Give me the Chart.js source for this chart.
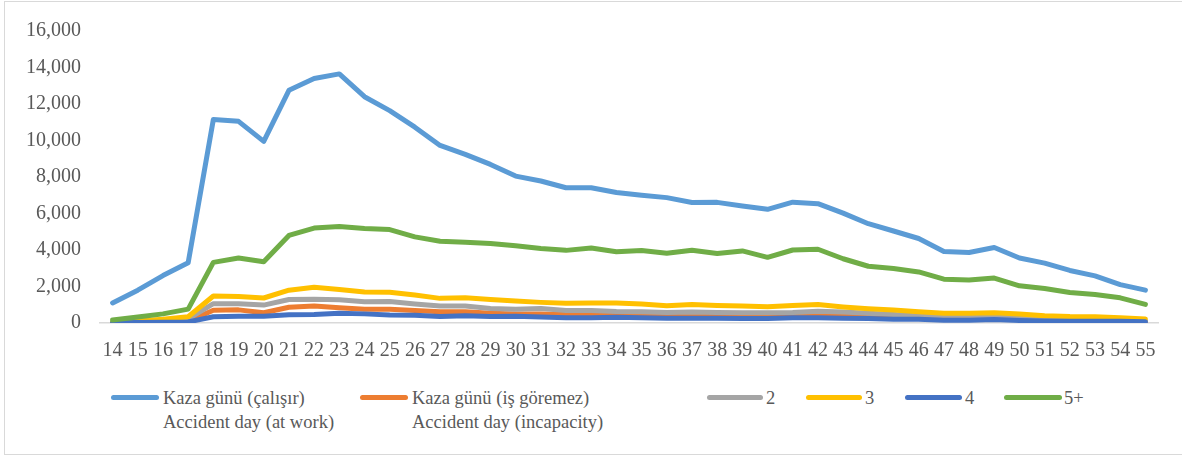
<!DOCTYPE html>
<html>
<head>
<meta charset="utf-8">
<script src="https://cdn.jsdelivr.net/npm/chart.js@4.4.1/dist/chart.umd.min.js"></script>
<style>
  html, body { margin: 0; padding: 0; background: #ffffff; }
  #wrap { position: relative; width: 1182px; height: 456px; overflow: hidden; background: #fff; }
  #frame { position: absolute; left: 4px; top: 1px; width: 1182px; height: 452px; border: 1px solid #d9d9d9; pointer-events: none; }
  #c { position: absolute; left: 0; top: 0; }
  .lg-item { position: absolute; font-family: "Liberation Serif", "Times New Roman", serif; font-size: 18.5px; line-height: 24px; color: #595959; white-space: nowrap; }
  .lg-line { position: absolute; height: 5px; border-radius: 3px; }
</style>
</head>
<body>
<div id="wrap">
  <canvas id="c" width="1182" height="370"></canvas>
  <div id="legend"></div>
  <div id="frame"></div>
</div>
<script>
// ---- data ----
const categories = ["14","15","16","17","18","19","20","21","22","23","24","25","26","27","28","29","30","31","32","33","34","35","36","37","38","39","40","41","42","43","44","45","46","47","48","49","50","51","52","53","54","55"];

const seriesNames = [
  ["Kaza günü (çalışır)", "Accident day (at work)"],
  ["Kaza günü (iş göremez)", "Accident day (incapacity)"],
  ["2"],
  ["3"],
  ["4"],
  ["5+"]
];

const atWork = [1100,1800,2600,3300,11150,11050,9950,12750,13400,13650,12400,11640,10730,9730,9240,8690,8050,7780,7410,7410,7150,7000,6870,6600,6610,6410,6230,6620,6540,6020,5440,5040,4630,3920,3860,4140,3560,3280,2880,2580,2100,1800];
const incapacity = [10,30,60,100,700,720,560,860,930,840,760,750,680,620,620,540,500,500,460,450,440,430,420,410,410,400,400,410,420,380,340,300,260,220,210,230,190,160,140,130,110,80];
const day2 = [20,60,120,220,1060,1050,980,1290,1300,1270,1170,1180,1040,930,930,800,750,790,680,680,630,620,580,600,580,560,560,570,650,600,540,460,380,310,300,340,280,230,200,190,150,120];
const day3 = [40,110,200,340,1480,1450,1370,1800,1960,1840,1700,1680,1530,1350,1380,1290,1200,1130,1080,1100,1100,1040,950,1010,960,930,890,960,1010,880,780,710,620,530,530,560,490,400,350,340,290,220];
const day4 = [20,30,40,60,340,370,370,450,470,530,500,440,420,350,400,350,370,330,290,290,310,290,260,260,260,240,240,290,290,260,240,210,200,150,150,190,140,110,100,100,90,70];
const day5plus = [160,330,500,760,3320,3560,3360,4800,5200,5290,5180,5120,4720,4480,4430,4360,4230,4080,3980,4110,3900,3970,3820,3990,3810,3950,3600,4000,4040,3520,3110,2990,2800,2400,2350,2460,2040,1890,1670,1560,1380,1020];

const seriesValues = [atWork, incapacity, day2, day3, day4, day5plus];
const seriesColors = ["#5B9BD5", "#ED7D31", "#A5A5A5", "#FFC000", "#4472C4", "#70AD47"];

const yTicks = [0, 2000, 4000, 6000, 8000, 10000, 12000, 14000, 16000];

// ---- chart ----
const FONT = "'Liberation Serif', 'Times New Roman', serif";
const TXT = "#595959";

const datasets = seriesValues.map((vals, i) => ({
  label: seriesNames[i].join(" "),
  data: vals,
  borderColor: seriesColors[i],
  backgroundColor: seriesColors[i],
  borderWidth: 5,
  borderCapStyle: "round",
  borderJoinStyle: "round",
  pointRadius: 0,
  pointHoverRadius: 0,
  tension: 0,
  fill: false,
  order: seriesValues.length - i
}));

new Chart(document.getElementById("c"), {
  type: "line",
  data: { labels: categories, datasets: datasets },
  options: {
    responsive: false,
    animation: false,
    events: [],
    layout: { padding: { top: 30, right: 24, left: 0, bottom: 0 } },
    plugins: { legend: { display: false }, tooltip: { enabled: false } },
    scales: {
      x: {
        offset: true,
        grid: { display: false, drawTicks: false },
        border: { display: true, color: "#d9d9d9", width: 1.5 },
        ticks: {
          autoSkip: false, maxRotation: 0, minRotation: 0,
          padding: 16,
          color: TXT,
          font: { family: FONT, size: 20 }
        },
        afterFit: (s) => { s.height = 47; }
      },
      y: {
        min: 0, max: 16000,
        grid: { display: false, drawTicks: false },
        border: { display: false },
        afterBuildTicks: (s) => { s.ticks = yTicks.map(v => ({ value: v })); },
        ticks: {
          padding: 19,
          color: TXT,
          font: { family: FONT, size: 20 },
          callback: (v) => Number(v).toLocaleString("en-US")
        },
        afterFit: (s) => { s.width = 100; }
      }
    }
  }
});

// ---- legend (HTML text) ----
const legendLayout = [
  { lineX: 111, lineW: 48, textX: 163 },
  { lineX: 360, lineW: 48, textX: 412 },
  { lineX: 707, lineW: 56, textX: 766 },
  { lineX: 806, lineW: 56, textX: 865 },
  { lineX: 905, lineW: 57, textX: 965 },
  { lineX: 1004, lineW: 58, textX: 1064 }
];
const lg = document.getElementById("legend");
seriesNames.forEach((name, i) => {
  const L = legendLayout[i];
  const line = document.createElement("div");
  line.className = "lg-line";
  line.style.left = L.lineX + "px";
  line.style.top = "394.5px";
  line.style.width = L.lineW + "px";
  line.style.background = seriesColors[i];
  lg.appendChild(line);
  const t = document.createElement("div");
  t.className = "lg-item";
  t.style.left = L.textX + "px";
  t.style.top = "386px";
  t.innerHTML = name.map(s => s.replace(/&/g, "&amp;").replace(/</g, "&lt;")).join("<br>");
  lg.appendChild(t);
});
</script>
</body>
</html>
